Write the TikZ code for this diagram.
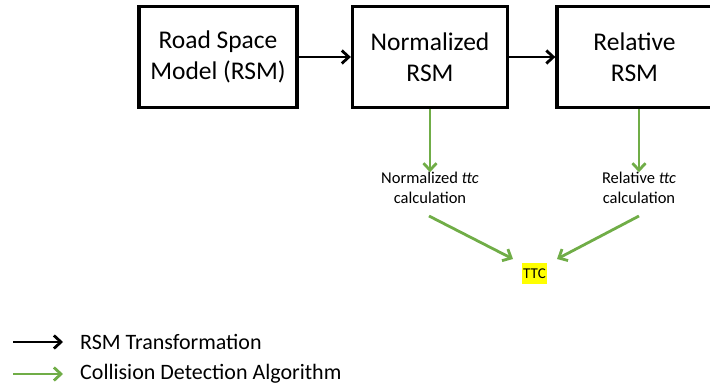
\documentclass[tikz,border=0pt]{standalone}
\usepackage{fontspec}
\setmainfont{Carlito}
\usetikzlibrary{arrows.meta}
\definecolor{offgreen}{RGB}{112,173,71}
\definecolor{hlyellow}{RGB}{255,255,0}
\begin{document}
\begin{tikzpicture}[x=1pt,y=-1pt,
  box/.style={draw=black,line width=3.3pt,minimum width=155pt,minimum height=101pt,align=center,font=\fontsize{25.5}{31}\selectfont,inner sep=0pt},
  blk/.style={draw=black,line width=2.8pt,-{Straight Barb[length=7pt,width=13pt,line width=2.8pt]}},
  grn/.style={draw=offgreen,line width=2.8pt,-{Straight Barb[length=7pt,width=13pt,line width=2.8pt]}},
  lbl/.style={align=center,font=\fontsize{16.5}{19.5}\selectfont,inner sep=0pt},
  leg/.style={anchor=west,font=\fontsize{22}{26}\selectfont,inner sep=0pt}]
\useasboundingbox (0,0) rectangle (710,388);
\node[box,minimum width=158pt] (rsm) at (218,57) {Road Space\\Model (RSM)};
\node[box] (nrsm) at (430,57) {Normalized\\RSM};
\node[box] (rrsm) at (634.5,57) {Relative\\RSM};
\node[lbl] (nttc) at (430,188) {Normalized \textit{ttc}\\calculation};
\node[lbl] (rttc) at (639,188) {Relative \textit{ttc}\\calculation};
\node[fill=hlyellow,font=\fontsize{15}{18}\selectfont,inner xsep=0.8pt,inner ysep=0pt,minimum height=21pt] (ttc) at (534.5,273.5) {TTC};
\draw[blk] (rsm) -- (nrsm);
\draw[blk] (nrsm) -- (rrsm);
\draw[grn] (nrsm.south -| nttc) -- (nttc.north);
\draw[grn] (rrsm.south -| rttc) -- (rttc.north);
\coordinate (n1) at (429,216);
\coordinate (n2) at (513,259);
\coordinate (r1) at (639,216);
\coordinate (r2) at (557,259);
\draw[grn] (n1) -- (n2);
\draw[grn] (r1) -- (r2);
\coordinate (la1) at (13,342);
\coordinate (la2) at (63,342);
\coordinate (lb1) at (13,374);
\coordinate (lb2) at (63,374);
\draw[blk] (la1) -- (la2);
\draw[grn] (lb1) -- (lb2);
\node[leg] (legA) at (80,342) {RSM Transformation};
\node[leg] (legB) at (80,374) {Collision Detection Algorithm};
\end{tikzpicture}
\end{document}
